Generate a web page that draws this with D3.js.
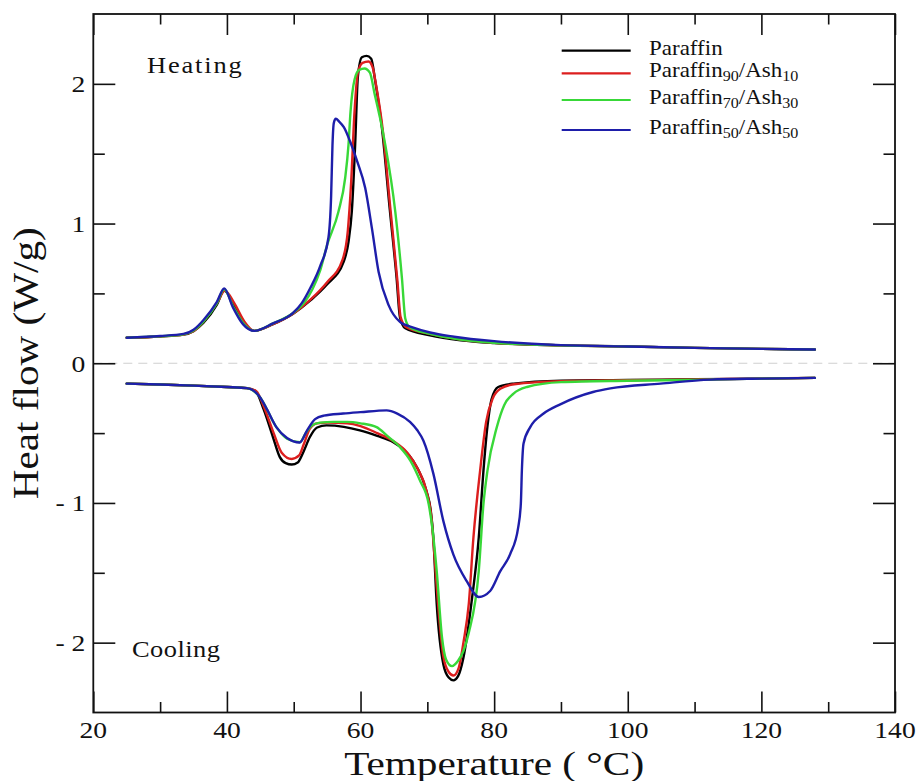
<!DOCTYPE html>
<html>
<head>
<meta charset="utf-8">
<script src="https://cdn.jsdelivr.net/npm/d3@7"></script>
<style>
  html, body { margin: 0; padding: 0; background: #fff; }
  svg { display: block; }
</style>
</head>
<body>
<svg id="chart" width="917" height="781" font-family="Liberation Serif"></svg>
<script>
// DSC heat-flow traces, [temperature °C, heat flow W/g]

const xTicks = [20, 40, 60, 80, 100, 120, 140];
const xMinorTicks = [30, 50, 70, 90, 110, 130];
const yTicks = [-2, -1, 0, 1, 2];
const yTickLabels = ["- 2", "- 1", "0", "1", "2"];
const yMinorTicks = [-1.5, -0.5, 0.5, 1.5];

const seriesNames = ["Paraffin", "Paraffin90/Ash10", "Paraffin70/Ash30", "Paraffin50/Ash50"];
const seriesColors = ["#000000", "#dc1e1e", "#38d838", "#1e1eaa"];

// Heating runs
const heatParaffin = [
  [25, 0.183], [30, 0.192], [33.5, 0.205], [35, 0.23], [36.5, 0.29], [38.5, 0.42],
  [39.6, 0.52], [40.9, 0.43], [42.4, 0.3], [44.1, 0.232], [46.9, 0.28], [49.9, 0.355],
  [52.5, 0.45], [55, 0.565], [57.5, 0.73], [58.2, 0.87], [58.7, 1.09], [59.2, 1.57],
  [59.6, 2.05], [60.2, 2.19], [60.9, 2.2], [61.6, 2.18], [62.2, 2.02], [63.2, 1.685],
  [64.4, 1.09], [65.4, 0.61], [65.9, 0.33], [66.7, 0.25], [70.4, 0.2], [75, 0.165],
  [80, 0.145], [90, 0.128], [100, 0.12], [110, 0.11], [120, 0.103], [128, 0.098]
];
const heatAsh10 = [
  [25, 0.183], [30, 0.192], [33.5, 0.205], [35, 0.23], [36.5, 0.3], [38.5, 0.43],
  [39.7, 0.52], [41.1, 0.43], [42.6, 0.3], [44.1, 0.232], [46.9, 0.28], [49.9, 0.355],
  [52.5, 0.455], [55, 0.58], [57.3, 0.74], [58.1, 0.95], [58.6, 1.3], [59.1, 1.8],
  [59.6, 2.08], [60.3, 2.15], [61.2, 2.16], [61.8, 2.12], [62.4, 1.97], [63.3, 1.68],
  [64.5, 1.09], [65.5, 0.6], [66.0, 0.33], [66.8, 0.26], [70.4, 0.21], [75, 0.17],
  [80, 0.147], [90, 0.128], [100, 0.12], [110, 0.11], [120, 0.103], [128, 0.098]
];
const heatAsh30 = [
  [25, 0.183], [30, 0.193], [33.5, 0.207], [35, 0.235], [36.5, 0.3], [38.5, 0.43],
  [39.6, 0.53], [40.9, 0.41], [42.4, 0.29], [44.1, 0.232], [46.9, 0.285], [49.9, 0.36],
  [51.5, 0.43], [52.8, 0.53], [54, 0.67], [55, 0.847], [56.7, 1.086], [57.7, 1.326],
  [58.2, 1.565], [58.5, 1.8], [59.1, 2.03], [59.8, 2.1], [60.6, 2.11], [61.4, 2.08],
  [62.1, 1.93], [62.9, 1.76], [63.7, 1.565], [65.2, 1.086], [66.2, 0.608], [66.7, 0.32],
  [67.3, 0.26], [70.4, 0.21], [75, 0.17], [80, 0.147], [90, 0.128], [100, 0.12],
  [110, 0.11], [120, 0.103], [128, 0.098]
];
const heatAsh50 = [
  [25, 0.183], [30, 0.195], [33.5, 0.21], [35, 0.24], [36.5, 0.31], [38.5, 0.44],
  [39.6, 0.536], [40.9, 0.4], [42.4, 0.28], [44.1, 0.232], [46.9, 0.285], [49.9, 0.36],
  [51.2, 0.43], [52.5, 0.54], [54, 0.7], [55.2, 0.9], [55.6, 1.2], [55.8, 1.56],
  [56.0, 1.72], [56.3, 1.75], [56.8, 1.73], [57.5, 1.69], [58.5, 1.58], [59.5, 1.445],
  [60.7, 1.254], [61.7, 0.967], [62.7, 0.655], [64.2, 0.416], [65.9, 0.296], [67.9, 0.255],
  [70.4, 0.22], [74, 0.19], [80, 0.158], [90, 0.13], [100, 0.12], [110, 0.11],
  [120, 0.103], [128, 0.098]
];

// Cooling runs
const coolParaffin = [
  [25, -0.146], [30, -0.152], [35, -0.16], [40, -0.17], [43, -0.178], [44.3, -0.2],
  [45.5, -0.33], [46.9, -0.53], [47.9, -0.67], [48.8, -0.715], [49.7, -0.725], [50.6, -0.71],
  [51.4, -0.64], [52.4, -0.53], [53.5, -0.46], [54.9, -0.445], [57.5, -0.455], [59.9, -0.48],
  [62.5, -0.52], [64.9, -0.565], [66.5, -0.62], [67.9, -0.7], [69.2, -0.82], [69.9, -0.92],
  [70.5, -1.05], [70.9, -1.25], [71.4, -1.72], [72.4, -2.156], [73.2, -2.25], [73.9, -2.27],
  [74.6, -2.24], [75.4, -2.108], [76.7, -1.678], [77.7, -1.247], [78.4, -0.768], [79.0, -0.45],
  [79.6, -0.26], [80.6, -0.17], [82.9, -0.146], [90, -0.125], [100, -0.12], [110, -0.115],
  [120, -0.11], [128, -0.105]
];
const coolAsh10 = [
  [25, -0.146], [30, -0.152], [35, -0.16], [40, -0.17], [43, -0.178], [44.4, -0.2],
  [45.6, -0.32], [47.0, -0.5], [48.2, -0.64], [49.7, -0.685], [50.8, -0.66], [51.5, -0.58],
  [52.4, -0.47], [53.5, -0.43], [55, -0.425], [58, -0.43], [60, -0.45], [62.5, -0.5],
  [65, -0.56], [67, -0.64], [68.5, -0.75], [69.9, -0.92], [70.6, -1.1], [71.1, -1.4],
  [71.6, -1.72], [72.4, -2.1], [73.2, -2.21], [73.9, -2.235], [74.7, -2.18], [75.4, -2.0],
  [76.2, -1.725], [76.9, -1.247], [77.9, -0.768], [78.8, -0.42], [79.8, -0.25], [81, -0.18],
  [83, -0.15], [90, -0.128], [100, -0.122], [110, -0.116], [120, -0.11], [128, -0.105]
];
const coolAsh30 = [
  [25, -0.146], [30, -0.152], [35, -0.16], [40, -0.17], [43, -0.178], [44.9, -0.24],
  [47.4, -0.457], [49, -0.54], [50.9, -0.565], [51.8, -0.5], [52.6, -0.45], [53.9, -0.425],
  [56, -0.42], [58, -0.42], [60, -0.43], [62.4, -0.457], [64, -0.52], [65.9, -0.6],
  [67.5, -0.7], [68.9, -0.84], [70.2, -1.007], [70.8, -1.2], [71.4, -1.486], [72.2, -1.965],
  [72.8, -2.12], [73.7, -2.168], [74.6, -2.13], [75.4, -2.06], [76.2, -1.93], [77.7, -1.486],
  [78.4, -1.007], [79.0, -0.768], [80.4, -0.457], [81.5, -0.3], [82.9, -0.217], [84.9, -0.17],
  [90, -0.135], [100, -0.125], [112, -0.117], [120, -0.11], [128, -0.105]
];
const coolAsh50 = [
  [25, -0.146], [30, -0.152], [35, -0.16], [40, -0.17], [43, -0.178], [44.9, -0.24],
  [46, -0.33], [47.4, -0.457], [49, -0.535], [50.9, -0.567], [52, -0.48], [53.2, -0.4],
  [54.5, -0.375], [57.4, -0.36], [60, -0.35], [63.9, -0.337], [65.5, -0.36], [67.4, -0.42],
  [68.5, -0.48], [69.4, -0.553], [70.9, -0.79], [72.4, -1.13], [73.9, -1.37], [75.9, -1.56],
  [77.7, -1.673], [79.4, -1.63], [80.9, -1.49], [82.4, -1.366], [83.6, -1.175], [84.0, -1.0],
  [84.15, -0.768], [84.4, -0.575], [85.4, -0.457], [87.4, -0.36], [89.9, -0.294], [94.8, -0.206],
  [97.4, -0.18], [104.9, -0.146], [112.4, -0.117], [120, -0.11], [128, -0.105]
];

const heatingRuns = [heatParaffin, heatAsh10, heatAsh30, heatAsh50];
const coolingRuns = [coolParaffin, coolAsh10, coolAsh30, coolAsh50];

// ---- layout ----
const FONT = "'Liberation Serif', 'Times New Roman', Times, serif";
const svg = d3.select("#chart");
const plot = { left: 93.3, right: 895, top: 14, bottom: 712.5 };

const x = d3.scaleLinear().domain([20, 140]).range([plot.left, plot.right]);
const y = d3.scaleLinear().domain([-2.5, 2.5]).range([plot.bottom, plot.top]);

// zero reference line
svg.append("line")
  .attr("x1", x(20)).attr("x2", x(140))
  .attr("y1", y(0)).attr("y2", y(0))
  .attr("stroke", "#cfcfcf").attr("stroke-width", 1.2)
  .attr("stroke-dasharray", "9,6");

// curves
const line = d3.line()
  .x(d => x(d[0])).y(d => y(d[1]))
  .curve(d3.curveMonotoneX);

const curves = svg.append("g").attr("fill", "none")
  .attr("stroke-width", 2.4).attr("stroke-linejoin", "round").attr("stroke-linecap", "round");

[heatingRuns, coolingRuns].forEach(runs => {
  runs.forEach((run, i) => {
    curves.append("path")
      .attr("d", line(run))
      .attr("stroke", seriesColors[i]);
  });
});

// axes, ticks pointing inward on all four sides
const majorLen = 21, minorLen = 10.5;
const frame = svg.append("g");

function innerTicks(axis, tx, ty, values, len) {
  frame.append("g").attr("transform", `translate(${tx},${ty})`)
    .call(axis.tickValues(values).tickSize(len).tickFormat(""))
    .call(g => g.select(".domain").remove());
}
innerTicks(d3.axisTop(x), 0, plot.bottom, xTicks, majorLen);
innerTicks(d3.axisTop(x), 0, plot.bottom, xMinorTicks, minorLen);
innerTicks(d3.axisBottom(x), 0, plot.top, xTicks, majorLen);
innerTicks(d3.axisBottom(x), 0, plot.top, xMinorTicks, minorLen);
innerTicks(d3.axisRight(y), plot.left, 0, yTicks, majorLen + 1);
innerTicks(d3.axisRight(y), plot.left, 0, yMinorTicks, minorLen + 1);
innerTicks(d3.axisLeft(y), plot.right, 0, yTicks, majorLen + 1);
innerTicks(d3.axisLeft(y), plot.right, 0, yMinorTicks, minorLen + 1);

frame.selectAll("line").attr("stroke", "#111").attr("stroke-width", 1.6);

frame.append("rect")
  .attr("x", plot.left).attr("y", plot.top)
  .attr("width", plot.right - plot.left).attr("height", plot.bottom - plot.top)
  .attr("fill", "none").attr("stroke", "#111").attr("stroke-width", 1.8);

// text helper: slightly widened serif glyphs
const sx = 1.15;
function wideText(parent, tx, ty, str, size, anchor) {
  return parent.append("text")
    .attr("transform", `translate(${tx},${ty}) scale(${sx},1)`)
    .attr("text-anchor", anchor || "start")
    .attr("font-family", FONT)
    .attr("font-size", size)
    .attr("fill", "#111")
    .text(str);
}

// tick labels
const labels = svg.append("g");
xTicks.forEach(v => wideText(labels, x(v), 738, String(v), 24, "middle"));
yTicks.forEach((v, i) => wideText(labels, plot.left - 8, y(v) + 8.5, yTickLabels[i], 24, "end"));

// axis titles
svg.append("text")
  .attr("x", x(80)).attr("y", 775)
  .attr("text-anchor", "middle")
  .attr("font-family", FONT)
  .attr("font-size", 34)
  .attr("fill", "#111")
  .attr("textLength", 300).attr("lengthAdjust", "spacingAndGlyphs")
  .text("Temperature ( °C)");

svg.append("text")
  .attr("transform", `translate(38,${y(0)}) rotate(-90)`)
  .attr("text-anchor", "middle")
  .attr("font-family", FONT)
  .attr("font-size", 36)
  .attr("fill", "#111")
  .attr("textLength", 272).attr("lengthAdjust", "spacingAndGlyphs")
  .text("Heat flow (W/g)");

// run annotations
wideText(svg, 147, 73.3, "Heating", 23, "start").attr("letter-spacing", 1.6);
wideText(svg, 132, 656.7, "Cooling", 23, "start").attr("letter-spacing", 0.4);

// legend
const legend = svg.append("g");
const legendRows = [50.7, 73.3, 100, 130];
seriesNames.forEach((name, i) => {
  const ly = legendRows[i];
  legend.append("line")
    .attr("x1", 561.7).attr("x2", 630.7)
    .attr("y1", ly).attr("y2", ly)
    .attr("stroke", seriesColors[i]).attr("stroke-width", 2.2);

  const t = wideText(legend, 649, ly + 4, "", 20, "start");
  const m = name.match(/^([A-Za-z]+)(\d+)?\/?([A-Za-z]+)?(\d+)?$/);
  t.append("tspan").text(m[1]);
  if (m[2]) {
    t.append("tspan").attr("font-size", 14).attr("dy", 4).text(m[2]);
    t.append("tspan").attr("dy", -4).text("/" + m[3]);
    t.append("tspan").attr("font-size", 14).attr("dy", 4).text(m[4]);
  }
});
</script>
</body>
</html>
